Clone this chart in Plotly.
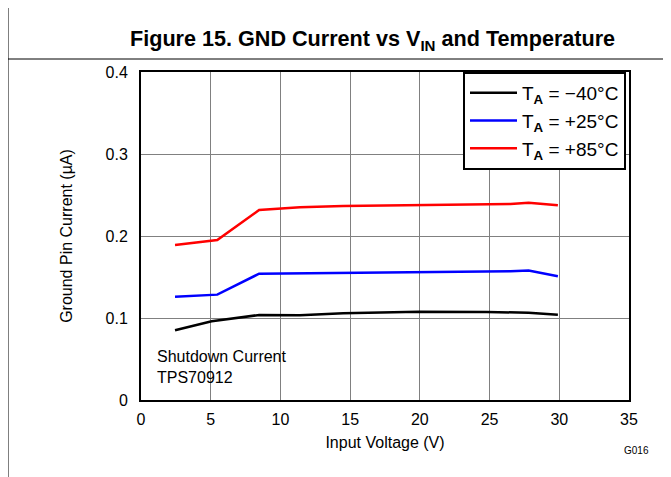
import plotly.graph_objects as go

# Data
v_m40 = [2.44, 5.07, 8.47, 11.4, 14.5, 19.9, 24.8, 27.8, 29.9]
i_m40 = [0.085, 0.096, 0.1037, 0.1033, 0.1057, 0.1077, 0.1073, 0.1065, 0.104]

v_25 = [2.44, 5.47, 8.47, 11.4, 14.5, 19.9, 26.5, 27.8, 29.9]
i_25 = [0.126, 0.1285, 0.154, 0.1545, 0.155, 0.1555, 0.157, 0.158, 0.151]

v_85 = [2.44, 5.47, 8.47, 11.4, 14.5, 19.9, 26.5, 27.8, 29.9]
i_85 = [0.189, 0.195, 0.2317, 0.235, 0.2366, 0.2378, 0.239, 0.2406, 0.2374]

series_names = ["T<sub><b>A</b></sub> = \u221240\u00b0C",
                "T<sub><b>A</b></sub> = +25\u00b0C",
                "T<sub><b>A</b></sub> = +85\u00b0C"]
series_colors = ["#000000", "#0000ff", "#ff0000"]

x_ticks = [0, 5, 10, 15, 20, 25, 30, 35]
y_ticks = [0, 0.1, 0.2, 0.3, 0.4]
y_labels = ["0", "0.1", "0.2", "0.3", "0.4"]

# page offset (default body margin) -> figure coords = screen coords - OFF
OFF = 8
W, H = 671 - OFF, 477 - OFF
L, T = 141 - OFF, 72 - OFF
R = 671 - 629
B = 477 - 400
pw, ph = W - L - R, H - T - B

def px(x):
    return (x - OFF - L) / pw

def py(y):
    return (H - B - (y - OFF)) / ph

fig = go.Figure()
for xs, ys, name, col in zip([v_m40, v_25, v_85], [i_m40, i_25, i_85], series_names, series_colors):
    fig.add_trace(go.Scatter(x=xs, y=ys, mode="lines", name=name,
                             line=dict(color=col, width=2.5)))

font = "Liberation Sans, Arial, sans-serif"

fig.update_layout(
    width=W, height=H,
    margin=dict(l=L, r=R, t=T, b=B, autoexpand=False),
    paper_bgcolor="white", plot_bgcolor="white",
    font=dict(family=font, size=16, color="black"),
    showlegend=True,
    legend=dict(x=1 - 3 / pw, y=1, xanchor="right", yanchor="top",
                bordercolor="black", borderwidth=2, bgcolor="white",
                font=dict(size=19), tracegroupgap=0, itemwidth=47,
                traceorder="normal"),
    xaxis=dict(range=[0, 35], tickvals=x_ticks, ticktext=[str(t) for t in x_ticks],
               showgrid=True, gridcolor="#808080", gridwidth=1,
               showline=True, linecolor="black", linewidth=2, mirror=True,
               ticks="outside", ticklen=4, tickcolor="rgba(0,0,0,0)", zeroline=False,
               title=dict(text="Input Voltage (V)", font=dict(size=16), standoff=10)),
    yaxis=dict(range=[0, 0.4], tickvals=y_ticks, ticktext=y_labels,
               showgrid=True, gridcolor="#808080", gridwidth=1,
               showline=True, linecolor="black", linewidth=2, mirror=True,
               ticks="outside", ticklen=8, tickcolor="rgba(0,0,0,0)", zeroline=False,
               title=dict(text="Ground Pin Current (\u00b5A)", font=dict(size=16), standoff=29)),
)

# frame lines
fig.add_shape(type="line", xref="paper", yref="paper",
              x0=px(8), x1=px(8), y0=py(0), y1=py(477), line=dict(color="black", width=1))
fig.add_shape(type="line", xref="paper", yref="paper",
              x0=px(8), x1=px(671), y0=py(59), y1=py(59), line=dict(color="black", width=1))

# title
fig.add_annotation(xref="paper", yref="paper", x=px(372), y=py(40),
                   text="<b>Figure 15. GND Current vs V<sub>IN</sub> and Temperature</b>",
                   showarrow=False, font=dict(size=21.6), xanchor="center", yanchor="middle")

# in-plot note
fig.add_annotation(xref="paper", yref="paper", x=px(155), y=py(367),
                   text="Shutdown Current<br>TPS70912", align="left",
                   showarrow=False, font=dict(size=16), xanchor="left", yanchor="middle")

# figure code
fig.add_annotation(xref="paper", yref="paper", x=px(651), y=py(450),
                   text="G016", showarrow=False, font=dict(size=10),
                   xanchor="right", yanchor="middle")

fig.write_html("out.html")
